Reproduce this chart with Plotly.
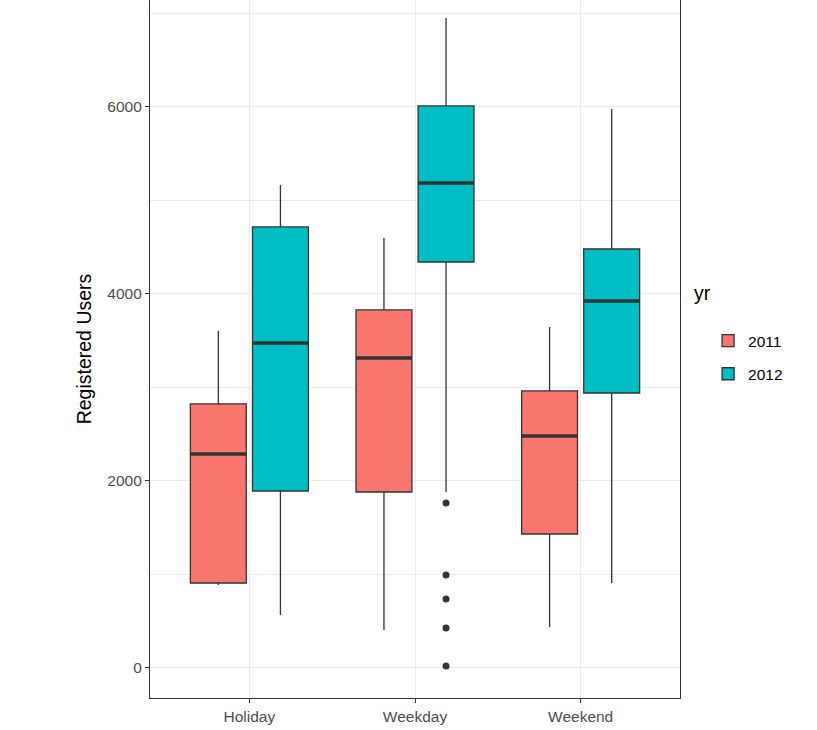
import plotly.graph_objects as go

# ---- data ----
categories = ["Holiday", "Weekday", "Weekend"]
years = ["2011", "2012"]
colors = {"2011": "#F8766D", "2012": "#00BFC4"}

lower_2011 = [888, 406, 438]
q1_2011 = [909, 1882, 1433]
median_2011 = [2289, 3316, 2481]
q3_2011 = [2824, 3829, 2963]
upper_2011 = [3604, 4599, 3647]

lower_2012 = [567, 1880, 909]
q1_2012 = [1893, 4342, 2941]
median_2012 = [3476, 5187, 3925]
q3_2012 = [4717, 6011, 4481]
upper_2012 = [5166, 6952, 5979]

outlier_cat_2012 = ["Weekday"] * 5
outlier_val_2012 = [1765, 995, 738, 428, 21]

stats = {
    "2011": dict(lower=lower_2011, q1=q1_2011, med=median_2011, q3=q3_2011, upper=upper_2011,
                 out_cat=[], out_val=[]),
    "2012": dict(lower=lower_2012, q1=q1_2012, med=median_2012, q3=q3_2012, upper=upper_2012,
                 out_cat=outlier_cat_2012, out_val=outlier_val_2012),
}

# ---- styling ----
dodge = 0.75
box_w = dodge / 2 * 0.9
offsets = {"2011": -dodge / 4, "2012": dodge / 4}
edge = "#333333"
grid = "#EBEBEB"
tick_font = dict(family="Liberation Sans, Arial, sans-serif", size=15.5, color="#4D4D4D")
title_font = dict(family="Liberation Sans, Arial, sans-serif", size=19.5, color="#000000")

fig = go.Figure()
idx = {c: i for i, c in enumerate(categories)}

for yr in years:
    s = stats[yr]
    pos = [idx[c] + offsets[yr] for c in categories]
    fig.add_trace(go.Box(
        x=pos, q1=s["q1"], median=s["med"], q3=s["q3"],
        lowerfence=s["lower"], upperfence=s["upper"],
        width=box_w, name=yr, legendgroup=yr,
        fillcolor=colors[yr], line=dict(color=edge, width=1.3),
        boxpoints=False, whiskerwidth=0, hoverinfo="skip",
    ))
    # thick median lines (ggplot fatten)
    mx, my = [], []
    for p, m in zip(pos, s["med"]):
        mx += [p - box_w / 2, p + box_w / 2, None]
        my += [m, m, None]
    fig.add_trace(go.Scatter(x=mx, y=my, mode="lines", line=dict(color=edge, width=3.6),
                             showlegend=False, legendgroup=yr, hoverinfo="skip"))
    if s["out_val"]:
        fig.add_trace(go.Scatter(
            x=[idx[c] + offsets[yr] for c in s["out_cat"]], y=s["out_val"],
            mode="markers", marker=dict(color=edge, size=7),
            showlegend=False, legendgroup=yr, hoverinfo="skip"))

fig.add_annotation(
    text="yr", xref="paper", yref="paper", x=(692 - 150) / 530, y=(698 - 293) / 698,
    xanchor="left", yanchor="middle", showarrow=False, font=title_font,
)

fig.update_layout(
    width=817, height=730,
    margin=dict(l=150, r=137, t=0, b=32),
    paper_bgcolor="white", plot_bgcolor="white",
    showlegend=True,
    legend=dict(
        font=dict(family="Liberation Sans, Arial, sans-serif", size=15.5, color="#000000"),
        x=1.053, xanchor="left", y=1 - (338 - 14) / 698, yanchor="top",
        tracegroupgap=10, bgcolor="rgba(0,0,0,0)",
    ),
    xaxis=dict(
        range=[-0.6, 2.6], tickmode="array", tickvals=list(range(len(categories))),
        ticktext=categories, showgrid=True, gridcolor=grid, gridwidth=1.4,
        zeroline=False, showline=True, linecolor=edge, linewidth=1.3, mirror=False,
        ticks="outside", ticklen=4, tickcolor=edge, tickwidth=1.3, tickfont=tick_font,
    ),
    yaxis=dict(
        range=[-321, 7144], tickmode="array", tickvals=[0, 2000, 4000, 6000],
        showgrid=True, gridcolor=grid, gridwidth=1.4, zeroline=False,
        showline=True, linecolor=edge, linewidth=1.3, mirror=True,
        ticks="outside", ticklen=4, tickcolor=edge, tickwidth=1.3, tickfont=tick_font,
        title=dict(text="Registered Users", font=title_font, standoff=10),
        minor=dict(tickvals=[1000, 3000, 5000, 7000], showgrid=True, gridcolor=grid,
                   gridwidth=0.7, ticks=""),
    ),
)

fig.write_html("out.html")
